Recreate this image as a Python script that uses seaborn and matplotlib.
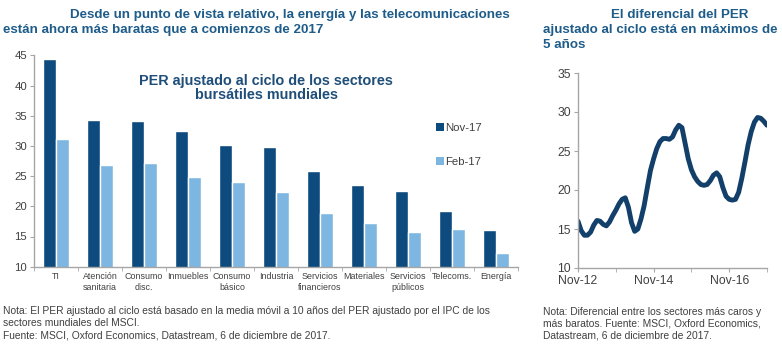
import matplotlib
matplotlib.use("Agg")
import matplotlib.pyplot as plt
import seaborn as sns
import pandas as pd
import numpy as np
from matplotlib.patches import Patch

# ---------------- data ----------------
sectors = ["TI", "Atención\nsanitaria", "Consumo\ndisc.", "Inmuebles", "Consumo\nbásico",
           "Industria", "Servicios\nfinancieros", "Materiales", "Servicios\npúblicos",
           "Telecoms.", "Energía"]
nov17 = [44.4, 34.3, 34.2, 32.4, 30.1, 29.8, 25.8, 23.6, 22.5, 19.2, 16.0]
feb17 = [31.1, 26.9, 27.2, 24.9, 24.1, 22.4, 18.9, 17.2, 15.8, 16.2, 12.2]
series_names = ["Nov-17", "Feb-17"]

spread = [16.0, 14.8, 14.2, 14.2, 14.6, 15.5, 16.1, 16.0, 15.6, 15.4, 15.9, 16.7,
          17.4, 18.2, 18.8, 19.0, 17.8, 15.8, 14.7, 15.0, 16.3, 18.0, 20.3, 22.5,
          24.0, 25.3, 26.2, 26.6, 26.6, 26.5, 26.8, 27.7, 28.3, 28.0, 26.0, 24.0,
          22.6, 21.7, 21.1, 20.7, 20.6, 20.7, 21.2, 21.9, 22.2, 21.7, 20.3, 19.2,
          18.8, 18.7, 18.8, 19.7, 21.5, 23.6, 25.8, 27.5, 28.7, 29.3, 29.2, 28.8,
          28.3]
spread_ticklabels = ["Nov-12", "Nov-14", "Nov-16"]

# ---------------- style ----------------
sns.set_style("white")
plt.rcParams["font.family"] = ["Liberation Sans", "DejaVu Sans"]

dark = "#0d4a7e"
light = "#7db7e1"
title_col = "#1e5c8a"
txt = "#404040"
spine_col = "#a6a6a6"

fig = plt.figure(figsize=(7.82, 3.44), dpi=100)
W, H = 782, 344

def px_axes(x0, x1, ytop, ybot):
    return fig.add_axes([x0 / W, 1 - ybot / H, (x1 - x0) / W, (ybot - ytop) / H])

# ---------------- left bar chart ----------------
ax = px_axes(34, 518, 55.3, 266.7)
df = pd.DataFrame({
    "sector": sectors * 2,
    "value": nov17 + feb17,
    "serie": [series_names[0]] * len(sectors) + [series_names[1]] * len(sectors),
})
sns.barplot(data=df, x="sector", y="value", hue="serie", palette=[dark, light],
            width=0.58, ax=ax, legend=False, saturation=1)
ax.set_ylim(10, 45)
ax.set_xlim(-0.5, len(sectors) - 0.5)
ax.set_yticks(range(10, 50, 5))
ax.set_xlabel("")
ax.set_ylabel("")
for s in ["top", "right"]:
    ax.spines[s].set_visible(False)
for s in ["left", "bottom"]:
    ax.spines[s].set_color(spine_col)
    ax.spines[s].set_linewidth(1.0)
ax.tick_params(axis="y", which="major", left=True, length=3, color=spine_col,
               labelsize=8.2, labelcolor=txt, pad=2)
ax.tick_params(axis="x", which="major", length=0, labelsize=6.4, labelcolor=txt, pad=4)
ax.set_xticks(np.arange(-0.5, len(sectors), 1.0), minor=True)
ax.tick_params(axis="x", which="minor", bottom=True, length=3, color=spine_col)

handles = [Patch(facecolor=dark, edgecolor="none"), Patch(facecolor=light, edgecolor="none")]
leg = ax.legend(handles, series_names, loc="center left", bbox_to_anchor=(0.81, 0.575),
                frameon=False, labelspacing=2.1, handlelength=0.65, handleheight=0.65,
                handletextpad=0.15, fontsize=8.2)
for t in leg.get_texts():
    t.set_color(txt)

ax.text(0.48, 0.845, "PER ajustado al ciclo de los sectores\nbursátiles mundiales",
        transform=ax.transAxes, ha="center", va="center", fontsize=10.4,
        fontweight="bold", color="#1f4e79", linespacing=1.0)

# ---------------- right line chart ----------------
ax2 = px_axes(578, 767, 73, 268)
months = list(range(len(spread)))
sns.lineplot(x=months, y=spread, ax=ax2, color="#133f6b", linewidth=3.5)
ax2.set_ylim(10, 35)
ax2.set_xlim(0, len(spread) - 1)
ax2.set_yticks(range(10, 40, 5))
ax2.set_xticks([0, 24, 48])
ax2.set_xticklabels(spread_ticklabels)
ax2.set_xticks([12, 36, 60], minor=True)
for s in ["top", "right"]:
    ax2.spines[s].set_visible(False)
for s in ["left", "bottom"]:
    ax2.spines[s].set_color(spine_col)
    ax2.spines[s].set_linewidth(1.0)
ax2.tick_params(axis="y", left=True, length=3, color=spine_col, labelsize=8.8,
                labelcolor=txt, pad=2)
ax2.tick_params(axis="x", which="both", bottom=True, length=3, color=spine_col,
                labelsize=8.8, labelcolor=txt, pad=2)

# ---------------- titles & notes ----------------
def ftext(x, y, s, **kw):
    fig.text(x / W, 1 - y / H, s, va="center", ha="left", **kw)

ftext(70, 15, "Desde un punto de vista relativo, la energía y las telecomunicaciones",
      fontsize=9.6, fontweight="bold", color=title_col)
ftext(3, 30, "están ahora más baratas que a comienzos de 2017",
      fontsize=9.6, fontweight="bold", color=title_col)
ftext(611, 15, "El diferencial del PER", fontsize=9.6, fontweight="bold", color=title_col)
ftext(543, 30, "ajustado al ciclo está en máximos de", fontsize=9.6, fontweight="bold",
      color=title_col)
ftext(543, 45, "5 años", fontsize=9.6, fontweight="bold", color=title_col)

note_kw = dict(fontsize=7.35, color=txt)
ftext(3, 311, "Nota: El PER ajustado al ciclo está basado en la media móvil a 10 años del PER ajustado por el IPC de los", **note_kw)
ftext(3, 323, "sectores mundiales del MSCI.", **note_kw)
ftext(3, 335, "Fuente: MSCI, Oxford Economics, Datastream, 6 de diciembre de 2017.", **note_kw)
ftext(543, 312, "Nota: Diferencial entre los sectores más caros y", **note_kw)
ftext(543, 324, "más baratos. Fuente: MSCI, Oxford Economics,", **note_kw)
ftext(543, 336, "Datastream, 6 de diciembre de 2017.", **note_kw)

fig.savefig("out.png", dpi=100)
